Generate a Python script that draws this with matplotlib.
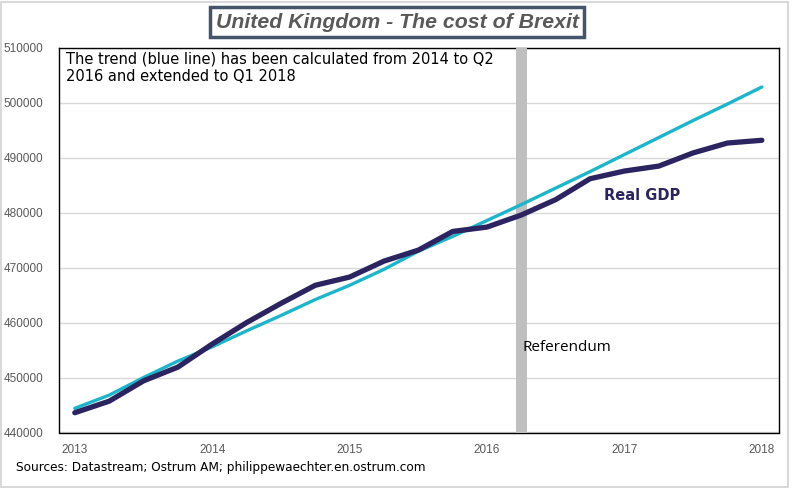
import matplotlib.pyplot as plt
from matplotlib.patches import Rectangle

# Trimestres 2013 Q1 -> 2018 Q1
quarters = ["2013Q1", "2013Q2", "2013Q3", "2013Q4",
            "2014Q1", "2014Q2", "2014Q3", "2014Q4",
            "2015Q1", "2015Q2", "2015Q3", "2015Q4",
            "2016Q1", "2016Q2", "2016Q3", "2016Q4",
            "2017Q1", "2017Q2", "2017Q3", "2017Q4",
            "2018Q1"]

# PIB réel (lecture du graphique)
real_gdp = [443600, 445700, 449400, 451900, 456100, 460000, 463500, 466800,
            468300, 471200, 473200, 476600, 477400, 479600, 482400, 486200,
            487600, 488500, 490900, 492700, 493200]

# Tendance (ligne bleue)
trend = [444400, 446800, 450000, 453000, 455600, 458500, 461300, 464200,
         466800, 469700, 473000, 475700, 478600, 481500, 484500, 487500,
         490600, 493700, 496800, 499800, 502900]

referendum = "2016Q2"
year_ticks = [2013, 2014, 2015, 2016, 2017, 2018]


def to_year(q):
    return int(q[:4]) + (int(q[-1]) - 1) / 4


x = [to_year(q) for q in quarters]

fig = plt.figure(figsize=(7.94, 4.88), dpi=100)
ax = fig.add_axes([59 / 794, 1 - 432.5 / 488, 720 / 794, 384.5 / 488])

grey_txt = "#595959"
navy = "#2B2461"
cyan = "#1BB6C9"

ax.axvspan(to_year(referendum) - 0.04, to_year(referendum) + 0.04,
           color="#BFBFBF", zorder=3, lw=0)
ax.plot(x, trend, color=cyan, lw=2.4, zorder=4, solid_capstyle="round")
ax.plot(x, real_gdp, color=navy, lw=3.8, zorder=5, solid_capstyle="round")

ax.set_xlim(2012.885, 2018.125)
ax.set_ylim(440000, 510000)
ax.set_yticks(range(440000, 510001, 10000))
ax.set_xticks(year_ticks)
ax.grid(axis="y", color="#D9D9D9", lw=1)
ax.set_axisbelow(True)
for s in ax.spines.values():
    s.set_color("black")
    s.set_linewidth(1)
ax.tick_params(length=0, labelsize=8.5, labelcolor=grey_txt)
ax.tick_params(axis="y", pad=11)
ax.tick_params(axis="x", pad=8)
for lab in ax.get_xticklabels() + ax.get_yticklabels():
    lab.set_family("Liberation Sans")

ax.text(0.0095, 0.99,
        "The trend (blue line) has been calculated from 2014 to Q2\n2016 and extended to Q1 2018",
        transform=ax.transAxes, ha="left", va="top", fontsize=10.5,
        family="DejaVu Sans", linespacing=1.2, zorder=6)
ax.text(2017.13, 483100, "Real GDP", color=navy, fontsize=10.5,
        fontweight="bold", family="DejaVu Sans", ha="center", va="center", zorder=6)
ax.text(2016.255, 455500, "Referendum", fontsize=11, family="Open Sans",
        ha="left", va="center", zorder=6)

fig.text(397 / 794, 1 - 22 / 488, "United Kingdom - The cost of Brexit",
         ha="center", va="center", fontsize=15.3, fontweight="bold",
         fontstyle="italic", family="Liberation Sans", color=grey_txt,
         bbox=dict(boxstyle="square,pad=0.28", fc="white", ec="#44546A", lw=2.5))
fig.text(16 / 794, 1 - 467 / 488,
         "Sources: Datastream; Ostrum AM; philippewaechter.en.ostrum.com",
         ha="left", va="center", fontsize=8.75, family="DejaVu Sans")

fig.patches.append(Rectangle((1 / 794, 1.5 / 488), 787 / 794, 485 / 488,
                             transform=fig.transFigure, fill=False,
                             ec="#D9D9D9", lw=1.5))

plt.savefig("out.png", dpi=100)
